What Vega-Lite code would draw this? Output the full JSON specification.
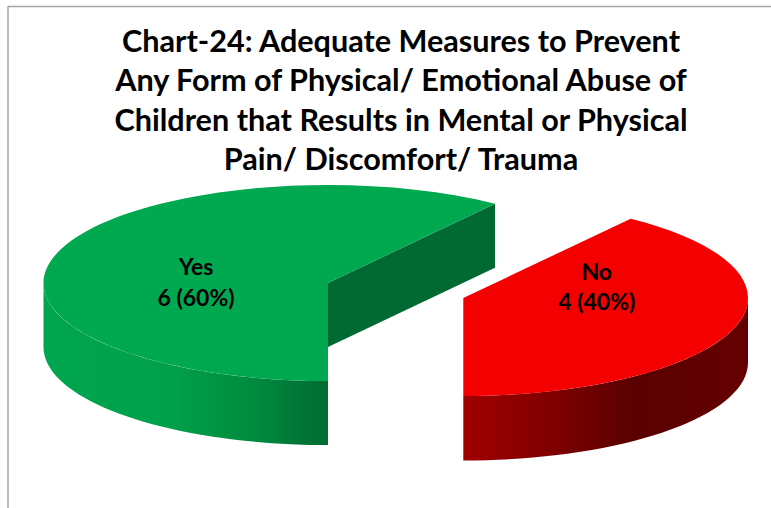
{
"$schema":"https://vega.github.io/schema/vega-lite/v6.json",
"width":763,"height":502,
"autosize":{"type":"none"},
"padding":{"left":8,"top":6,"right":0,"bottom":0},
"background":"white",
"view":{"stroke":null},
"title":{"text":["Chart-24: Adequate Measures to Prevent","Any Form of Physical/ Emotional Abuse of","Children that Results in Mental or Physical","Pain/ Discomfort/ Trauma"],"font":"Lato","fontWeight":"bold","fontSize":30.6,"color":"#000000","lineHeight":39.5,"anchor":"middle","frame":"group","baseline":"top","offset":0,"dx":11.5,"dy":171.5},
"data":{"values":[{"answer":"Yes","count":6,"label":"Yes\n6 (60%)"},{"answer":"No","count":4,"label":"No\n4 (40%)"}]},
"encoding":{
"x":{"field":"answer","type":"nominal","axis":null,"scale":{"type":"point","padding":0,"domain":["Yes","No"],"range":[320,455.3]}},
"y":{"field":"answer","type":"nominal","axis":null,"scale":{"type":"point","padding":0,"domain":["Yes","No"],"range":[277,292]}}
},
"layer":[
{"data":{"values":[{"frame":"left"}]},"mark":{"type":"rule","color":"#a6a6a6","strokeWidth":1.5},"encoding":{"x":{"value":0},"y":{"value":0},"y2":{"value":502}}},
{"data":{"values":[{"frame":"top"}]},"mark":{"type":"rule","color":"#a6a6a6","strokeWidth":1.5},"encoding":{"y":{"value":0.5},"x":{"value":0},"x2":{"value":763}}},
{"transform":[{"filter":"datum.answer==='Yes'"}],"mark":{"type":"point","filled":true,"opacity":1,"strokeWidth":0,"size":4,"shape":"M-284.5,0 A284.5,98 0 0 0 0,98 L0,162 A284.5,98 0 0 1 -284.5,64 Z","fill":{"gradient":"linear","x1":0,"y1":0,"x2":1,"y2":0,"stops":[{"offset":0,"color":"#00a64e"},{"offset":0.45,"color":"#00a04a"},{"offset":0.75,"color":"#008a3e"},{"offset":0.92,"color":"#007435"},{"offset":1,"color":"#006c31"}]}}},
{"transform":[{"filter":"datum.answer==='Yes'"}],"mark":{"type":"point","filled":true,"opacity":1,"strokeWidth":0,"size":4,"shape":"M0,0 L167,-79.34 L167,-15.34 L0,64 Z","fill":"#016a32"}},
{"transform":[{"filter":"datum.answer==='Yes'"}],"mark":{"type":"point","filled":true,"opacity":1,"strokeWidth":0,"size":4,"shape":"M0,0 L167,-79.34 A284.5,98 0 1 0 0,98 Z","fill":"#00a84f"}},
{"transform":[{"filter":"datum.answer==='No'"}],"mark":{"type":"point","filled":true,"opacity":1,"strokeWidth":0,"size":4,"shape":"M284.7,0 A284.7,98 0 0 1 0,98 L0,162.5 A284.7,98 0 0 0 284.7,64.5 Z","fill":{"gradient":"linear","x1":0,"y1":0,"x2":1,"y2":0,"stops":[{"offset":0,"color":"#a00000"},{"offset":0.3,"color":"#800000"},{"offset":0.6,"color":"#5a0000"},{"offset":1,"color":"#650000"}]}}},
{"transform":[{"filter":"datum.answer==='No'"}],"mark":{"type":"point","filled":true,"opacity":1,"strokeWidth":0,"size":4,"shape":"M0,0 L167.4,-79.27 A284.7,98 0 0 1 0,98 Z","fill":"#f40000"}},
{"transform":[{"filter":"datum.answer==='Yes'"}],"mark":{"type":"text","font":"Lato","fontWeight":"bold","fontSize":23,"color":"#000000","lineBreak":"\n","lineHeight":31,"baseline":"middle","align":"center","dx":-132,"dy":-15},"encoding":{"text":{"field":"label","type":"nominal"}}},
{"transform":[{"filter":"datum.answer==='No'"}],"mark":{"type":"text","font":"Lato","fontWeight":"bold","fontSize":23,"color":"#000000","lineBreak":"\n","lineHeight":30,"baseline":"middle","align":"center","dx":133.5,"dy":-25},"encoding":{"text":{"field":"label","type":"nominal"}}}
]
}
